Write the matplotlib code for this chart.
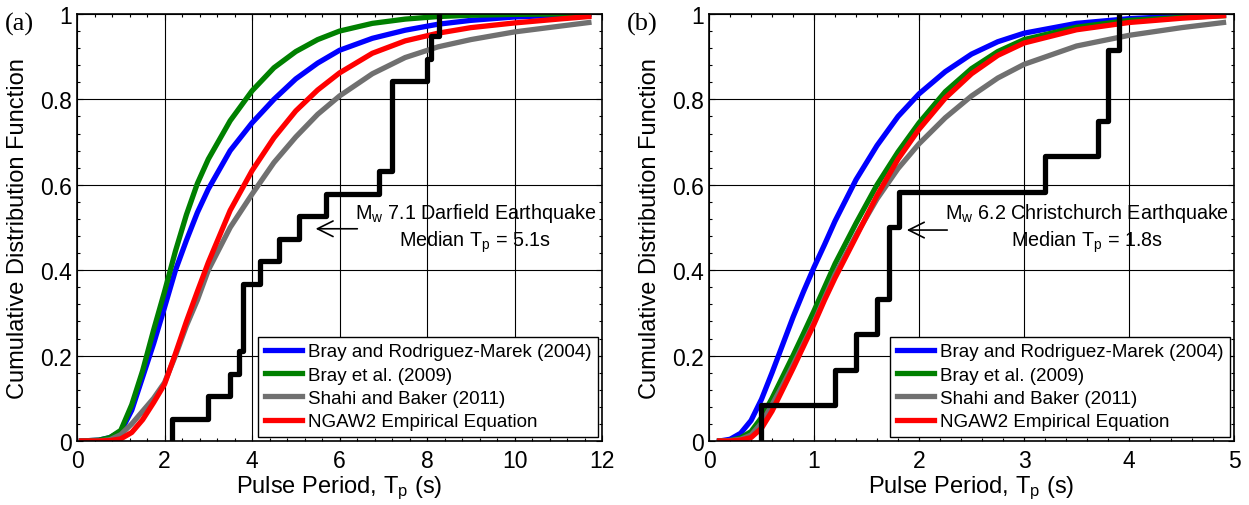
import numpy as np
import matplotlib
matplotlib.use("Agg")
import matplotlib.pyplot as plt
from matplotlib.ticker import MultipleLocator, AutoMinorLocator

plt.rcParams['font.family'] = ['Liberation Sans', 'DejaVu Sans']
plt.rcParams['mathtext.fontset'] = 'custom'
plt.rcParams['mathtext.rm'] = 'Liberation Sans'
plt.rcParams['mathtext.it'] = 'Liberation Sans:italic'

labels = ['Bray and Rodriguez-Marek (2004)', 'Bray et al. (2009)',
          'Shahi and Baker (2011)', 'NGAW2 Empirical Equation']
colors = ['#0000FF', '#008000', '#707070', '#FF0000']
yticks = [0, 0.2, 0.4, 0.6, 0.8, 1.0]
ytick_labels = ['0', '0.2', '0.4', '0.6', '0.8', '1']

# panel (a): Darfield
xa = [0.1, 0.5, 0.75, 1.0, 1.25, 1.5, 1.75, 2.0, 2.25, 2.5, 2.75, 3.0, 3.5,
      4.0, 4.5, 5.0, 5.5, 6.0, 6.75, 7.5, 8.25, 9.0, 10.0, 11.0, 11.7]
blue_a = [0, 0.002, 0.008, 0.022, 0.072, 0.15, 0.228, 0.313, 0.4, 0.47, 0.535, 0.59, 0.68,
          0.745, 0.8, 0.848, 0.885, 0.915, 0.943, 0.962, 0.976, 0.985, 0.993, 0.997, 0.998]
green_a = [0, 0.002, 0.008, 0.025, 0.085, 0.165, 0.26, 0.35, 0.445, 0.53, 0.603, 0.66, 0.75,
           0.82, 0.874, 0.912, 0.94, 0.96, 0.978, 0.988, 0.994, 0.997, 0.999, 1.0, 1.0]
gray_a = [0, 0, 0.003, 0.015, 0.04, 0.07, 0.1, 0.137, 0.2, 0.27, 0.33, 0.4, 0.5,
          0.578, 0.652, 0.712, 0.765, 0.808, 0.86, 0.898, 0.923, 0.94, 0.958, 0.971, 0.98]
red_a = [0, 0, 0.001, 0.005, 0.02, 0.05, 0.09, 0.133, 0.205, 0.28, 0.35, 0.418, 0.54,
         0.633, 0.71, 0.773, 0.822, 0.862, 0.908, 0.937, 0.955, 0.968, 0.979, 0.988, 0.994]
darfield_tp = [2.17, 2.99, 3.5, 3.71, 3.79, 3.79, 3.79, 4.19, 4.61, 5.07,
               5.7, 6.91, 7.19, 7.19, 7.19, 7.19, 8.01, 8.1, 8.28]

# panel (b): Christchurch
xb = [0.1, 0.2, 0.3, 0.4, 0.5, 0.6, 0.7, 0.8, 0.9, 1.0, 1.1, 1.2, 1.4, 1.6,
      1.8, 2.0, 2.25, 2.5, 2.75, 3.0, 3.5, 4.0, 4.5, 4.9]
blue_b = [0, 0.004, 0.018, 0.048, 0.098, 0.16, 0.225, 0.29, 0.35, 0.407, 0.46, 0.515, 0.612, 0.692,
          0.76, 0.813, 0.865, 0.906, 0.935, 0.955, 0.978, 0.989, 0.995, 0.998]
green_b = [0, 0.001, 0.007, 0.022, 0.055, 0.1, 0.15, 0.2, 0.252, 0.305, 0.36, 0.415, 0.51, 0.6,
           0.677, 0.745, 0.818, 0.872, 0.912, 0.94, 0.969, 0.985, 0.992, 0.996]
gray_b = [0, 0.001, 0.004, 0.014, 0.042, 0.085, 0.13, 0.178, 0.228, 0.278, 0.335, 0.39, 0.482, 0.567,
          0.638, 0.696, 0.757, 0.808, 0.85, 0.882, 0.925, 0.95, 0.968, 0.98]
red_b = [0, 0, 0.002, 0.008, 0.03, 0.07, 0.12, 0.17, 0.222, 0.274, 0.33, 0.382, 0.478, 0.575,
         0.66, 0.73, 0.803, 0.86, 0.903, 0.932, 0.963, 0.98, 0.99, 0.996]
christchurch_tp = [0.49, 1.2, 1.4, 1.6, 1.71, 1.71, 1.81, 3.2, 3.7, 3.8, 3.8, 3.9]


def draw_panel(ax, x, curves, sample, xmax, xstep, note, arrow_xy, arrow_from, note_xy):
    for y, c, lab in zip(curves, colors, labels):
        ax.plot(x, y, color=c, lw=3.8, label=lab)
    s = np.sort(sample)
    n = len(s)
    ax.step(np.r_[s[0], s], np.r_[0, np.arange(1, n + 1) / n], where='post',
            color='k', lw=3.8)
    ax.set_xlim(0, xmax)
    ax.set_ylim(0, 1)
    ax.xaxis.set_major_locator(MultipleLocator(xstep))
    ax.set_yticks(yticks, ytick_labels)
    ax.xaxis.set_minor_locator(AutoMinorLocator(5))
    ax.yaxis.set_minor_locator(AutoMinorLocator(5))
    ax.grid(True, which='major', color='k', lw=0.8)
    ax.tick_params(which='both', direction='in', top=True, right=True, labelsize=16.5)
    ax.tick_params(which='major', length=4, width=0.8)
    ax.tick_params(which='minor', length=2.5, width=0.8)
    ax.tick_params(axis='x', pad=6)
    for sp in ax.spines.values():
        sp.set_linewidth(1.2)
    ax.set_xlabel('Pulse Period, T$_\\mathrm{p}$ (s)', fontsize=17, labelpad=1)
    ax.set_ylabel('Cumulative Distribution Function', fontsize=17, labelpad=8)
    ax.annotate('', xy=arrow_xy, xytext=arrow_from,
                arrowprops=dict(arrowstyle='->', lw=1.2, color='k', mutation_scale=28))
    ax.text(note_xy[0], note_xy[1], note, fontsize=14.2, ha='center', va='center',
            linespacing=1.25)
    leg = ax.legend(loc='lower right', fontsize=13.5, frameon=True, fancybox=False,
                    framealpha=1, edgecolor='k', borderaxespad=0.22, borderpad=0.35,
                    labelspacing=0.33, handlelength=2.0, handletextpad=0.3)
    leg.get_frame().set_linewidth(1.0)


fig = plt.figure(figsize=(12.49, 5.06), dpi=100)
ax1 = fig.add_axes([0.0617, 0.1265, 0.4203, 0.8439])
ax2 = fig.add_axes([0.5677, 0.1265, 0.4203, 0.8439])

draw_panel(ax1, xa, [blue_a, green_a, gray_a, red_a], darfield_tp, 12, 2,
           'M$_\\mathrm{w}$ 7.1 Darfield Earthquake\nMedian T$_\\mathrm{p}$ = 5.1s',
           (5.39, 0.497), (6.47, 0.497), (9.1, 0.5))
draw_panel(ax2, xb, [blue_b, green_b, gray_b, red_b], christchurch_tp, 5, 1,
           'M$_\\mathrm{w}$ 6.2 Christchurch Earthquake\nMedian T$_\\mathrm{p}$ = 1.8s',
           (1.857, 0.494), (2.295, 0.494), (3.6, 0.5))

fig.text(0.004, 0.951, '(a)', fontsize=19, family='Liberation Serif', va='center')
fig.text(0.502, 0.951, '(b)', fontsize=19, family='Liberation Serif', va='center')

fig.savefig('out.png', dpi=100)
